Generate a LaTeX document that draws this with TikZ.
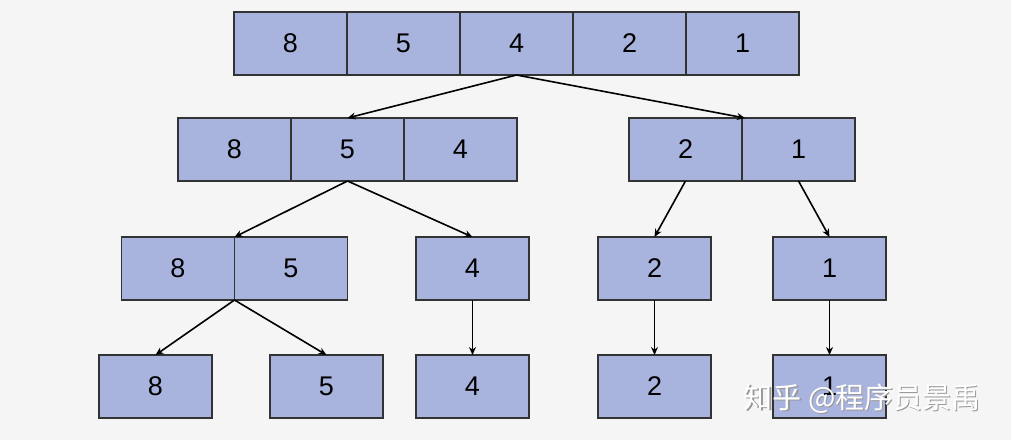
\documentclass[tikz,border=0pt]{standalone}
\usepackage{fontspec}
\setmainfont{Liberation Sans}
\newfontfamily\cjk{Noto Sans CJK SC}
\usetikzlibrary{arrows.meta, positioning}

\definecolor{cellblue}{RGB}{169,180,222}
\definecolor{bggray}{RGB}{245,245,245}
\definecolor{edgegray}{RGB}{51,51,51}

\tikzset{
  cell/.style={draw=edgegray, line width=1.2pt, fill=cellblue, minimum width=113pt, minimum height=63pt, inner sep=0pt, outer sep=0pt, font=\fontsize{27}{32}\selectfont},
  link/.style={-{Stealth[length=8pt,width=7pt]}, line width=1.6pt, black}
}

\begin{document}
\begin{tikzpicture}[x=1pt, y=-1pt]
    \fill[bggray] (0,0) rectangle (1011,440);
    \useasboundingbox (0,0) rectangle (1011,440);

    % level 0
    \node[cell] (a1) at (290.5,43.5) {8};
    \node[cell, right=0pt of a1] (a2) {5};
    \node[cell, right=0pt of a2] (a3) {4};
    \node[cell, right=0pt of a3] (a4) {2};
    \node[cell, right=0pt of a4] (a5) {1};

    % level 1
    \node[cell] (b1) at (234.5,149.5) {8};
    \node[cell, right=0pt of b1] (b2) {5};
    \node[cell, right=0pt of b2] (b3) {4};
    \node[cell] (b4) at (685.5,149.5) {2};
    \node[cell, right=0pt of b4] (b5) {1};

    % level 2
    \node[cell] (c1) at (178,268.5) {8};
    \node[cell, right=0pt of c1] (c2) {5};
    \node[cell] (c3) at (472.5,268.5) {4};
    \node[cell] (c4) at (654.5,268.5) {2};
    \node[cell] (c5) at (829.5,268.5) {1};

    % level 3
    \node[cell] (d1) at (155.5,386.5) {8};
    \node[cell] (d2) at (326.5,386.5) {5};
    \node[cell] (d3) at (472.5,386.5) {4};
    \node[cell] (d4) at (654.5,386.5) {2};
    \node[cell] (d5) at (829.5,386.5) {1};

    \draw[link] (a3.south) -- (b2.north);
    \draw[link] (a3.south) -- ([xshift=3pt]b4.north east);
    \draw[link] (b2.south) -- (c1.north east);
    \draw[link] (b2.south) -- (c3.north);
    \draw[link] (b4.south) -- (c4.north);
    \draw[link] (b5.south) -- (c5.north);
    \draw[link] (c1.south east) -- (d1.north);
    \draw[link] (c1.south east) -- (d2.north);
    \draw[link] (c3.south) -- (d3.north);
    \draw[link] (c4.south) -- (d4.north);
    \draw[link] (c5.south) -- (d5.north);

    % watermark
    \node[text=gray!80, font=\cjk\fontsize{29}{32}\selectfont] (wmshadow) at (863.5,400) {知乎 @程序员景禹};
    \node[text=white, font=\cjk\fontsize{29}{32}\selectfont] (wm) at (862,398.5) {知乎 @程序员景禹};
\end{tikzpicture}
\end{document}
